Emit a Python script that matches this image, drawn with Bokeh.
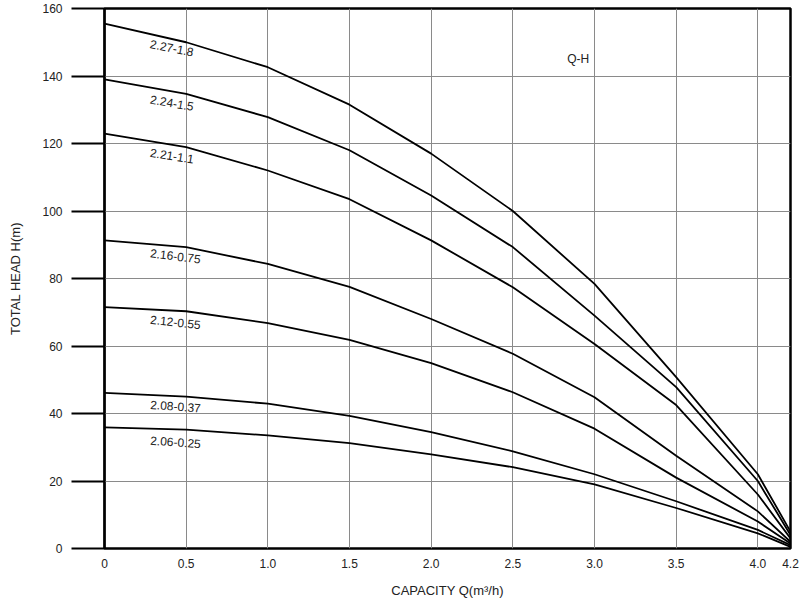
from bokeh.plotting import figure
from bokeh.models import Range1d, FixedTicker, Label, ColumnDataSource
from bokeh.core.properties import value
from bokeh.embed import file_html
from bokeh.resources import INLINE

# ---- data ----
capacity = [0, 0.5, 1.0, 1.5, 2.0, 2.5, 3.0, 3.5, 4.0, 4.2]
models = ["2.27-1.8", "2.24-1.5", "2.21-1.1", "2.16-0.75", "2.12-0.55", "2.08-0.37", "2.06-0.25"]
head_227 = [155.5, 150.0, 142.6, 131.5, 117.0, 100.0, 78.4, 50.8, 22.0, 5.0]
head_224 = [139.0, 134.7, 127.8, 118.0, 104.6, 89.3, 69.0, 47.8, 20.0, 4.0]
head_221 = [122.9, 118.9, 112.0, 103.5, 91.3, 77.4, 60.6, 42.5, 16.0, 3.0]
head_216 = [91.3, 89.3, 84.3, 77.5, 68.0, 57.7, 44.8, 27.5, 11.0, 2.0]
head_212 = [71.5, 70.3, 66.8, 61.8, 54.9, 46.3, 35.5, 21.0, 8.0, 1.5]
head_208 = [46.1, 45.0, 42.9, 39.3, 34.5, 28.8, 22.0, 14.0, 5.5, 1.0]
head_206 = [35.9, 35.2, 33.5, 31.2, 27.9, 24.1, 19.0, 12.0, 4.5, 0.5]
heads = [head_227, head_224, head_221, head_216, head_212, head_208, head_206]

x_ticks = [0, 0.5, 1.0, 1.5, 2.0, 2.5, 3.0, 3.5, 4.0, 4.2]
x_tick_labels = ["0", "0.5", "1.0", "1.5", "2.0", "2.5", "3.0", "3.5", "4.0", "4.2"]
y_ticks = [0, 20, 40, 60, 80, 100, 120, 140, 160]

# label placement (layout, not data)
label_x = [0.28] * 7
label_y = [149.6, 133.2, 117.4, 87.6, 67.9, 42.7, 32.1]
label_angle = [-11, -10, -9, -7, -6, -4, -4]

FONT = "Liberation Sans"
TXT = "#222222"

p = figure(width=800, height=600, output_backend="svg", toolbar_location=None,
           x_range=Range1d(0, 4.2), y_range=Range1d(0, 160),
           min_border_left=104, min_border_right=10, min_border_top=8, min_border_bottom=52)
p.background_fill_color = "white"
p.border_fill_color = "white"
p.outline_line_color = "black"
p.outline_line_width = 2.5

# grid
p.xgrid.ticker = FixedTicker(ticks=x_ticks[1:-1])
p.ygrid.ticker = FixedTicker(ticks=y_ticks[1:-1])
p.xgrid.grid_line_color = "#8a8a8a"
p.ygrid.grid_line_color = "#8a8a8a"
p.xgrid.grid_line_width = 1
p.ygrid.grid_line_width = 1

# x axis
p.xaxis.ticker = FixedTicker(ticks=x_ticks)
p.xaxis.major_label_overrides = {t: l for t, l in zip(x_ticks, x_tick_labels)}
p.xaxis.major_tick_out = 0
p.xaxis.major_tick_in = 0
p.xaxis.minor_tick_out = 0
p.xaxis.minor_tick_in = 0
p.xaxis.axis_line_color = None
p.xaxis.major_label_standoff = 10
p.xaxis.major_label_text_font = FONT
p.xaxis.major_label_text_font_size = "12px"
p.xaxis.major_label_text_color = TXT
p.xaxis.axis_label = "CAPACITY Q(m³/h)"
p.xaxis.axis_label_text_font = FONT
p.xaxis.axis_label_text_font_size = "13px"
p.xaxis.axis_label_text_font_style = "normal"
p.xaxis.axis_label_text_color = TXT
p.xaxis.axis_label_standoff = 12

# y axis
p.yaxis.ticker = FixedTicker(ticks=y_ticks)
p.yaxis.major_tick_out = 33
p.yaxis.major_tick_in = 0
p.yaxis.minor_tick_out = 0
p.yaxis.minor_tick_in = 0
p.yaxis.major_tick_line_width = 2
p.yaxis.major_tick_line_color = "black"
p.yaxis.axis_line_color = "black"
p.yaxis.axis_line_width = 2
p.yaxis.major_label_standoff = 9
p.yaxis.major_label_text_font = FONT
p.yaxis.major_label_text_font_size = "12px"
p.yaxis.major_label_text_color = TXT
p.yaxis.axis_label = "TOTAL HEAD H(m)"
p.yaxis.axis_label_text_font = FONT
p.yaxis.axis_label_text_font_size = "13px"
p.yaxis.axis_label_text_font_style = "normal"
p.yaxis.axis_label_text_color = TXT
p.yaxis.axis_label_standoff = 16

# curves
for h in heads:
    p.line(capacity, h, line_color="black", line_width=1.8, line_join="round")

src = ColumnDataSource(dict(x=label_x, y=label_y, t=models, a=label_angle))
p.text("x", "y", text="t", angle="a", angle_units="deg", source=src,
       text_font=value(FONT), text_font_size="12px", text_color=TXT,
       text_align="left", text_baseline="middle")

p.add_layout(Label(x=2.90, y=145, text="Q-H", text_font=FONT, text_font_size="12px",
                   text_color=TXT, text_align="center", text_baseline="middle"))

open("out.html", "w").write(file_html(p, INLINE))
